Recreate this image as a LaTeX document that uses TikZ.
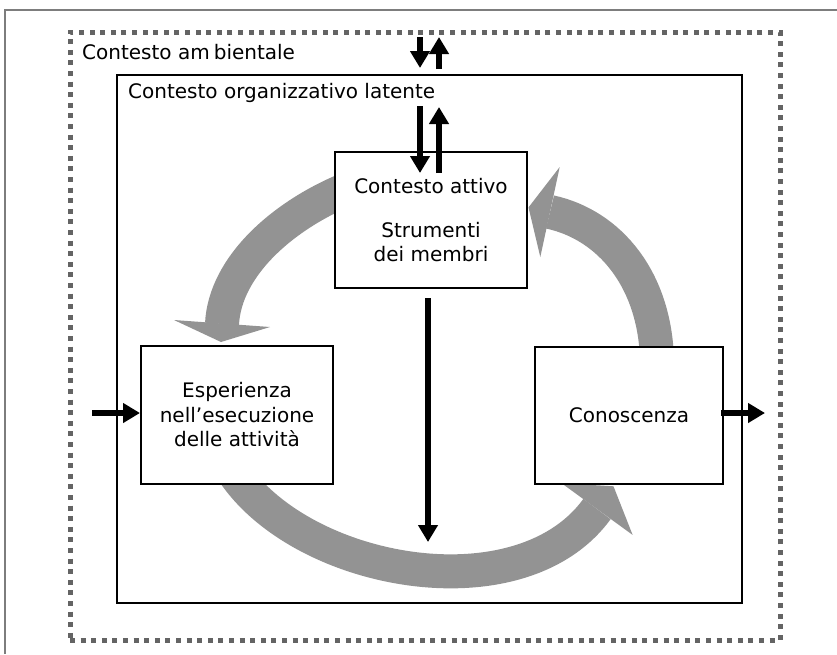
\documentclass[tikz,border=0pt]{standalone}
\usepackage{fontspec}
\setmainfont{DejaVu Sans}
\usetikzlibrary{arrows.meta,calc}
\definecolor{flowgray}{RGB}{147,147,147}
\definecolor{dotgray}{RGB}{100,100,100}
\definecolor{framegray}{RGB}{125,125,125}

\begin{document}
\begin{tikzpicture}[x=1pt,y=-1pt,
  txt/.style={font=\fontsize{20}{24.5}\selectfont, inner sep=0pt, align=center},
  ctxbox/.style={draw=black, line width=2.5pt, inner sep=0pt},
  ambbox/.style={draw=dotgray, line width=5pt, dash pattern=on 5pt off 5.6pt, inner sep=0pt},
  stepbox/.style={draw=black, line width=2pt, fill=white, inner sep=0pt,
    font=\fontsize{20}{24.5}\selectfont, align=center},
  flow/.style={flowgray, line width=34pt},
  flowhead/.style={fill=flowgray},
  blk/.style={line width=6pt, -{Triangle[width=19pt,length=17pt]}}
]
\useasboundingbox (0,0) rectangle (837,654);

% page frame
\draw[framegray, line width=1.5pt] (5,654) -- (5,10) -- (837,10);

% environment and latent organisational context
\node[ambbox, minimum width=710pt, minimum height=608pt] (amb) at (425,336) {};
\node[ctxbox, minimum width=625pt, minimum height=528pt] (lat) at (429.5,339) {};
\node[txt, anchor=west] (ambt) at (82,52) {Contesto am\kern0.2em bientale};
\node[txt, anchor=west] (latt) at (128,93) {Contesto organizzativo latente};

% circular flow (under the boxes)
\coordinate (f1s) at (345,190);
\coordinate (f1e) at (222,324);
\draw[flow] (f1s) .. controls (285,215) and (225,265) .. (f1e);
\fill[flowhead] (174,320) -- (221,342) -- (270,327) -- cycle;

\coordinate (f2s) at (657,360);
\coordinate (f2e) at (550,212);
\draw[flow] (f2s) .. controls (655,280) and (610,225) .. (f2e);
\fill[flowhead] (559.7,167) -- (528.5,207.4) -- (540.3,257) -- cycle;

\coordinate (f3s) at (232,470);
\coordinate (f3e) at (597,509);
\draw[flow] (f3s) .. controls (300,575) and (520,615) .. (f3e);
\fill[flowhead] (632.6,534.9) -- (613.5,486.3) -- (561.4,483.1) -- cycle;

% boxes
\node[stepbox, minimum width=192pt, minimum height=136pt] (act) at (431,220) {};
\node[txt] (actt) at (431,186) {Contesto attivo};
\node[txt] (tools) at (431,242) {Strumenti\\dei membri};
\node[stepbox, minimum width=192pt, minimum height=138pt] (exp) at (237,415)
  {Esperienza\\nell’esecuzione\\delle attività};
\node[stepbox, minimum width=188pt, minimum height=137pt] (kno) at (629,415.5) {Conoscenza};

% exchanges between the contexts
\coordinate (a1) at (420,37);  \coordinate (a2) at (420,68);
\coordinate (a3) at (439,69);  \coordinate (a4) at (439,37);
\draw[blk] (a1) -- (a2);
\draw[blk] (a3) -- (a4);
\coordinate (b1) at (420,106); \coordinate (b2) at (420,173);
\coordinate (b3) at (439,173); \coordinate (b4) at (439,107);
\draw[blk] (b1) -- (b2);
\draw[blk] (b3) -- (b4);
\coordinate (c1) at (428,298); \coordinate (c2) at (428,542);
\draw[blk] (c1) -- (c2);

% input and output
\coordinate (in) at (92,413);
\draw[blk] (in) -- (exp.west |- in);
\coordinate (out) at (765,413);
\draw[blk] (kno.east |- out) ++(-3,0) -- (out);
\end{tikzpicture}
\end{document}
